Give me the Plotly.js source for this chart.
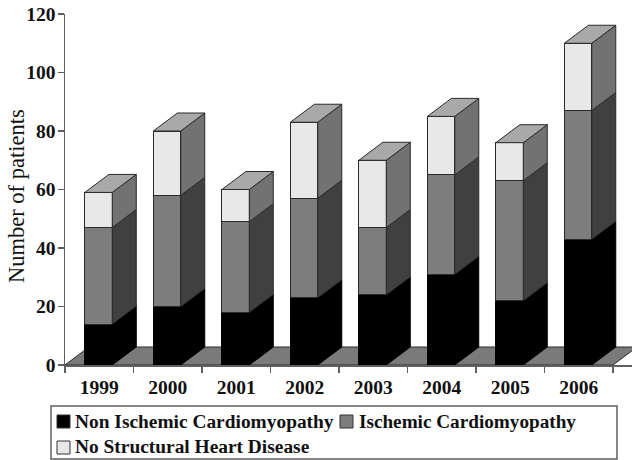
<!DOCTYPE html>
<html>
<head>
<meta charset="utf-8">
<script src="https://cdn.plot.ly/plotly-3.0.1.min.js"></script>
<style>html,body{margin:0;padding:0;background:#fff}#chart{width:632px;height:460px}</style>
</head>
<body>
<div id="chart"></div>
<script>
var years = ['1999','2000','2001','2002','2003','2004','2005','2006'];
var nonIschemic = [14,20,18,23,24,31,22,43];
var ischemic = [33,38,31,34,23,34,41,44];
var noStructural = [12,22,11,26,23,20,13,23];
var seriesNames = ['Non Ischemic Cardiomyopathy','Ischemic Cardiomyopathy','No Structural Heart Disease'];
var yAxisTitle = 'Number of patients';

var W = 632, H = 460, L = 65, T = 14, B = 95;
var FONT = '"Liberation Serif", "Times New Roman", serif';
var INK = '#111111', EDGE = '#2a2a2a', AXIS = '#5f5f5f';
var frontColors = ['#000000','#7d7d7d','#e8e8e8'];
var sideColors = ['#000000','#404040','#727272'];
var edgeColors = ['#000000',EDGE,EDGE];
var topColor = '#a9a9a9', floorColor = '#7a7a7a';
var stepPx = 68.5, yPx = 351/120;
var depthX = 24/stepPx, depthY = 18/yPx, barW = 0.4, shift = 0.49;
var xMax = (W-L)/stepPx;

var pos = years.map(function(_,i){return i+shift;});
var tickPos = years.map(function(_,i){return i+0.5;});
var edges = years.map(function(_,i){return i;}).concat([years.length]);
var series = [nonIschemic, ischemic, noStructural];

var traces = series.map(function(vals,k){
  return {type:'bar', x:pos, y:vals, width:barW, name:seriesNames[k], showlegend:false, hoverinfo:'skip',
    marker:{color:frontColors[k], line:{color:edgeColors[k],width:1}}};
});

series.forEach(function(vals,k){
  var xs=[], ys=[];
  vals.forEach(function(v,i){
    var y0=0; for(var j=0;j<k;j++) y0+=series[j][i];
    var y1=y0+v, xr=pos[i]+barW/2;
    xs.push(xr,xr+depthX,xr+depthX,xr,xr,null);
    ys.push(y0,y0+depthY,y1+depthY,y1,y0,null);
  });
  traces.push({type:'scatter',mode:'lines',x:xs,y:ys,fill:'toself',fillcolor:sideColors[k],
    line:{color:edgeColors[k],width:1},showlegend:false,hoverinfo:'skip'});
});

var tx=[], ty=[];
years.forEach(function(_,i){
  var tot=nonIschemic[i]+ischemic[i]+noStructural[i];
  var xl=pos[i]-barW/2, xr=pos[i]+barW/2;
  tx.push(xl,xl+depthX,xr+depthX,xr,xl,null);
  ty.push(tot,tot+depthY,tot+depthY,tot,tot,null);
});
traces.push({type:'scatter',mode:'lines',x:tx,y:ty,fill:'toself',fillcolor:topColor,
  line:{color:EDGE,width:1},showlegend:false,hoverinfo:'skip'});

function px(x){return (x-L)/(W-L);}
function py(y){return (H-B-y)/(H-B-T);}
function box(x0,y0,x1,y1,fill,line,w){
  return {type:'rect',xref:'paper',yref:'paper',x0:px(x0),x1:px(x1),y0:py(y1),y1:py(y0),
    fillcolor:fill,line:{color:line,width:w},layer:'above'};
}
function label(text,x,y,size){
  return {text:text,xref:'paper',yref:'paper',x:px(x),y:py(y),xanchor:'left',yanchor:'middle',showarrow:false,
    font:{family:FONT,size:size,color:INK,weight:700},borderpad:0,borderwidth:0};
}

var shapes = [
  {type:'path',xref:'x',yref:'y',layer:'below',
   path:'M 0 0 L '+depthX+' '+depthY+' L '+(years.length+depthX)+' '+depthY+' L '+years.length+' 0 Z',
   fillcolor:floorColor,line:{color:EDGE,width:1}},
  box(51,406,617,459,'#ffffff',AXIS,1.5),
  box(57,415,70,428,frontColors[0],'#333333',1),
  box(340,415,353,428,frontColors[1],'#333333',1),
  box(57,441,70,454,frontColors[2],'#333333',1)
];

var titleNote = {text:yAxisTitle,xref:'paper',yref:'paper',x:px(16),y:py(196),xanchor:'center',yanchor:'middle',
  textangle:-90,showarrow:false,font:{family:FONT,size:22.5,color:INK},borderpad:0};

var layout = {
  width:W,height:H,margin:{l:L,r:0,t:T,b:B,pad:0},
  paper_bgcolor:'#fff',plot_bgcolor:'#fff',barmode:'stack',showlegend:false,
  font:{family:FONT,color:INK},
  xaxis:{range:[0,xMax],tickmode:'array',tickvals:tickPos,ticktext:years,ticks:'',ticklen:0,
    showgrid:false,zeroline:false,showline:true,linecolor:AXIS,linewidth:1.5,ticklabelstandoff:4,
    tickfont:{family:FONT,size:19.5,color:INK,weight:700},
    minor:{tickmode:'array',tickvals:edges,ticks:'outside',ticklen:6,tickwidth:1.5,tickcolor:AXIS,showgrid:false}},
  yaxis:{range:[0,120],tickmode:'array',tickvals:[0,20,40,60,80,100,120],ticks:'outside',ticklen:6,tickwidth:1.5,tickcolor:AXIS,
    showgrid:false,zeroline:false,showline:true,linecolor:AXIS,linewidth:1.5,ticklabelstandoff:-2,
    tickfont:{family:FONT,size:19.5,color:INK,weight:700}},
  shapes:shapes,
  annotations:[
    titleNote,
    label(seriesNames[0],75,421,19.4),
    label(seriesNames[1],359,421,19.2),
    label(seriesNames[2],75,447,19.4)
  ]
};
Plotly.newPlot('chart',traces,layout,{displayModeBar:false,staticPlot:true});
</script>
</body>
</html>
